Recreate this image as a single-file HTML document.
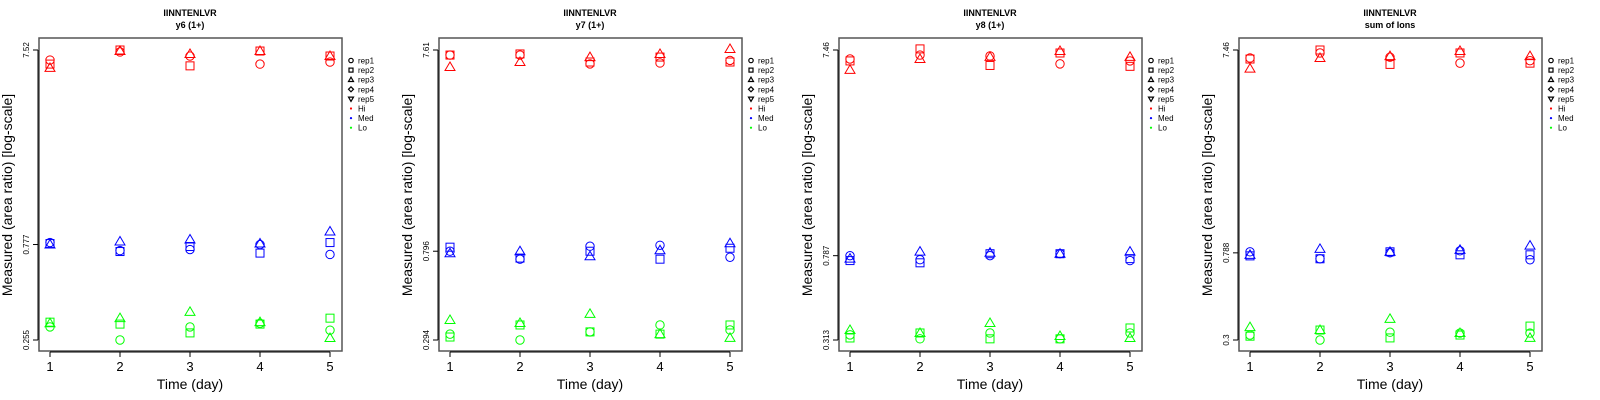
<!DOCTYPE html>
<html><head><meta charset="utf-8"><style>
html,body{margin:0;padding:0;background:#fff;}
svg{display:block;font-family:"Liberation Sans",sans-serif;}
</style></head><body>
<svg id="chart" width="1600" height="400" viewBox="0 0 1600 400"></svg>
<script>
const panelTitles = ["y6 (1+)", "y7 (1+)", "y8 (1+)", "sum of Ions"];
const peptide = "IINNTENLVR";
const days = [1, 2, 3, 4, 5];
const yTicks = [[7.52, 0.777, 0.255], [7.61, 0.796, 0.294], [7.46, 0.787, 0.313], [7.46, 0.788, 0.3]];
const legendLabels = ["rep1", "rep2", "rep3", "rep4", "rep5", "Hi", "Med", "Lo"];
const groups = ["Hi", "Med", "Lo"];
const groupColors = ["#ff0000", "#0000ff", "#00ff00"];
// values[panel][group][rep] = per-day values
const p1Hi = [[6.69, 7.35, 7.01, 6.38, 6.53], [6.38, 7.52, 6.25, 7.43, 7.01], [6.10, 7.43, 7.18, 7.43, 7.01]];
const p1Med = [[0.795, 0.724, 0.733, 0.777, 0.692], [0.786, 0.716, 0.759, 0.703, 0.795], [0.777, 0.805, 0.824, 0.786, 0.905]];
const p1Lo = [[0.297, 0.255, 0.297, 0.310, 0.286], [0.314, 0.307, 0.277, 0.307, 0.329], [0.310, 0.329, 0.354, 0.314, 0.261]];
const p2Hi = [[7.19, 7.19, 6.51, 6.58, 6.77], [7.19, 7.28, 6.65, 7.03, 6.65], [6.29, 6.65, 7.03, 7.28, 7.70]];
const p2Med = [[0.796, 0.728, 0.842, 0.851, 0.744], [0.833, 0.737, 0.796, 0.728, 0.823], [0.778, 0.796, 0.752, 0.805, 0.871]];
const p2Lo = [[0.314, 0.294, 0.322, 0.348, 0.329], [0.304, 0.348, 0.322, 0.314, 0.348], [0.368, 0.356, 0.394, 0.314, 0.301]];
const p3Hi = [[6.76, 7.06, 6.99, 6.41, 6.62], [6.62, 7.55, 6.30, 7.22, 6.24], [6.00, 6.76, 6.92, 7.38, 6.92]];
const p3Med = [[0.787, 0.753, 0.787, 0.804, 0.746], [0.746, 0.728, 0.804, 0.804, 0.762], [0.762, 0.823, 0.813, 0.804, 0.823]];
const p3Lo = [[0.331, 0.317, 0.338, 0.317, 0.338], [0.320, 0.338, 0.317, 0.317, 0.357], [0.349, 0.338, 0.377, 0.327, 0.320]];
const p4Hi = [[6.83, 7.22, 6.89, 6.45, 6.63], [6.75, 7.46, 6.36, 7.22, 6.45], [6.07, 6.83, 6.97, 7.38, 6.97]];
const p4Med = [[0.797, 0.738, 0.788, 0.806, 0.730], [0.762, 0.738, 0.797, 0.771, 0.771], [0.771, 0.823, 0.797, 0.814, 0.854]];
const p4Lo = [[0.317, 0.300, 0.327, 0.324, 0.324], [0.313, 0.335, 0.307, 0.317, 0.350], [0.346, 0.335, 0.379, 0.324, 0.307]];
const values = [[p1Hi, p1Med, p1Lo], [p2Hi, p2Med, p2Lo], [p3Hi, p3Med, p3Lo], [p4Hi, p4Med, p4Lo]];

const NS = "http://www.w3.org/2000/svg";
const svg = document.getElementById("chart");
function mk(tag, attrs, parent) {
  const e = document.createElementNS(NS, tag);
  for (const k in attrs) e.setAttribute(k, attrs[k]);
  parent.appendChild(e);
  return e;
}
const BOX = {l: 39, r: 342, t: 38, b: 351};
function xScale(d) { return 50 + (d - 1) / 4 * 280; }
function makeY(ticks) {
  const lo = Math.log10(Math.min(...ticks)), hi = Math.log10(Math.max(...ticks));
  return v => 340 - (Math.log10(v) - lo) / (hi - lo) * 290;
}
function marker(g, shape, x, y, color) {
  let e;
  if (shape === 0) e = mk("circle", {cx: x, cy: y, r: 4.2}, g);
  else if (shape === 1) e = mk("rect", {x: x - 4, y: y - 4, width: 8, height: 8}, g);
  else if (shape === 2) e = mk("polygon", {points: `${x},${y - 5} ${x - 5},${y + 3.5} ${x + 5},${y + 3.5}`}, g);
  else if (shape === 3) e = mk("polygon", {points: `${x},${y - 4} ${x - 4},${y} ${x},${y + 4} ${x + 4},${y}`}, g);
  else e = mk("polygon", {points: `${x},${y + 5} ${x - 5},${y - 3.5} ${x + 5},${y - 3.5}`}, g);
  e.setAttribute("fill", "none");
  e.setAttribute("stroke", color);
  e.setAttribute("stroke-width", "1");
  return e;
}

for (let p = 0; p < 4; p++) {
  const ox = p * 400;
  const g = mk("g", {transform: `translate(${ox},0)`}, svg);
  
  
  const yS = makeY(yTicks[p]);
  // titles
  const t1 = mk("text", {x: 190, y: 16, "text-anchor": "middle", "font-size": "9", "font-weight": "bold"}, g);
  t1.textContent = peptide;
  
  
  const t2 = mk("text", {x: 190, y: 28, "text-anchor": "middle", "font-size": "9", "font-weight": "bold"}, g);
  t2.textContent = panelTitles[p];
  
  
  // box
  const box = mk("rect", {x: BOX.l, y: BOX.t, width: BOX.r - BOX.l, height: BOX.b - BOX.t, fill: "none", stroke: "#555", "stroke-width": "1.5"}, g);
  
  
  // x axis
  const xa = mk("g", {}, g);
  
  
  mk("line", {x1: xScale(days[0]), x2: xScale(days[days.length - 1]), y1: 352, y2: 352, stroke: "#000"}, xa);
  days.forEach(d => {
    mk("line", {x1: xScale(d), x2: xScale(d), y1: 352, y2: 357, stroke: "#000"}, xa);
    const tl = mk("text", {x: xScale(d), y: 371, "text-anchor": "middle", "font-size": "13"}, xa);
    tl.textContent = d;
    
    
  });
  const xt = mk("text", {x: 190, y: 389, "text-anchor": "middle", "font-size": "14"}, g);
  xt.textContent = "Time (day)";
  
  
  // y axis
  const ya = mk("g", {}, g);
  
  
  const ys = yTicks[p].map(yS);
  mk("line", {x1: 38, x2: 38, y1: Math.min(...ys), y2: Math.max(...ys), stroke: "#000"}, ya);
  yTicks[p].forEach(v => {
    const y = yS(v);
    mk("line", {x1: 33, x2: 38, y1: y, y2: y, stroke: "#000"}, ya);
    const tl = mk("text", {x: 29, y: y, "text-anchor": "middle", "font-size": "8", transform: `rotate(-90 29 ${y})`}, ya);
    tl.textContent = v;
    
    
  });
  const yt = mk("text", {x: 12, y: 195, "text-anchor": "middle", "font-size": "14", transform: "rotate(-90 12 195)"}, g);
  yt.textContent = "Measured (area ratio) [log-scale]";
  
  
  // points
  values[p].forEach((grp, gi) => {
    grp.forEach((rep, ri) => {
      rep.forEach((v, di) => {
        const m = marker(g, ri, xScale(days[di]), yS(v), groupColors[gi]);
        
        
      });
    });
  });
  // legend
  const lg = mk("g", {}, g);
  
  
  legendLabels.forEach((lab, i) => {
    const y = 60.5 + i * 9.6;
    const e = mk("g", {}, lg);
    
    
    if (i < 5) {
      let s;
      if (i === 0) s = mk("circle", {cx: 351, cy: y, r: 2.2}, e);
      else if (i === 1) s = mk("rect", {x: 349, y: y - 2, width: 4, height: 4}, e);
      else if (i === 2) s = mk("polygon", {points: `351,${y - 2.5} 348.5,${y + 1.8} 353.5,${y + 1.8}`}, e);
      else if (i === 3) s = mk("polygon", {points: `351,${y - 2.5} 348.5,${y} 351,${y + 2.5} 353.5,${y}`}, e);
      else s = mk("polygon", {points: `351,${y + 2.5} 348.5,${y - 1.8} 353.5,${y - 1.8}`}, e);
      s.setAttribute("fill", "none");
      s.setAttribute("stroke", "#000");
      s.setAttribute("stroke-width", "1.2");
    } else {
      mk("circle", {cx: 351, cy: y, r: 1.1, fill: groupColors[i - 5]}, e);
    }
    const tx = mk("text", {x: 358, y: y + 3, "font-size": "8"}, e);
    tx.textContent = lab;
  });
}
</script>
</body></html>
